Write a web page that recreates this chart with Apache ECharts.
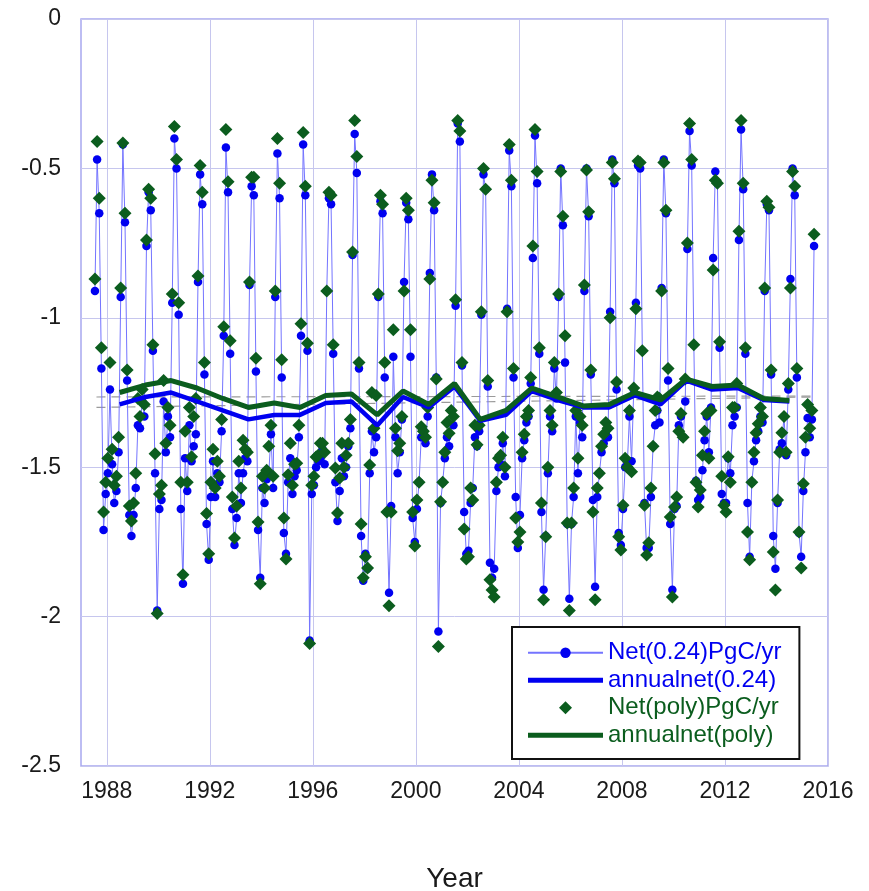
<!DOCTYPE html>
<html>
<head>
<meta charset="utf-8">
<script src="https://cdn.jsdelivr.net/npm/echarts@6/dist/echarts.min.js"></script>
<style>
  html, body { margin: 0; padding: 0; background: #ffffff; }
  #chart { width: 869px; height: 891px; }
</style>
</head>
<body>
<div id="chart"></div>
<script>
// Monthly net carbon flux (PgC/yr); the first value is July 1987, the last June 2015.
const firstYear = 1987;
const firstMonth = 7;

const net024 = [
  /* 1987 Jul-Dec */ -0.91, -0.47, -0.65, -1.17, -1.71, -1.59,
  /* 1988 */ -1.52, -1.24, -1.49, -1.62, -1.58, -1.45, -0.93, -0.42, -0.68, -1.21, -1.66, -1.73,
  /* 1989 */ -1.66, -1.57, -1.36, -1.37, -1.28, -1.33, -0.76, -0.58, -0.64, -1.11, -1.52, -1.98,
  /* 1990 */ -1.64, -1.61, -1.28, -1.45, -1.33, -1.40, -0.95, -0.40, -0.50, -0.99, -1.64, -1.89,
  /* 1991 */ -1.47, -1.58, -1.36, -1.48, -1.43, -1.39, -0.88, -0.52, -0.62, -1.19, -1.69, -1.81,
  /* 1992 */ -1.60, -1.48, -1.60, -1.52, -1.55, -1.38, -1.06, -0.43, -0.58, -1.12, -1.64, -1.76,
  /* 1993 */ -1.67, -1.52, -1.62, -1.52, -1.47, -1.48, -0.89, -0.56, -0.59, -1.18, -1.71, -1.87,
  /* 1994 */ -1.57, -1.62, -1.54, -1.52, -1.39, -1.57, -0.93, -0.45, -0.60, -1.20, -1.72, -1.79,
  /* 1995 */ -1.55, -1.47, -1.59, -1.53, -1.51, -1.40, -1.06, -0.42, -0.59, -1.11, -2.08, -1.59,
  /* 1996 */ -1.56, -1.50, -1.48, -1.47, -1.44, -1.49, -0.91, -0.60, -0.62, -1.12, -1.55, -1.68,
  /* 1997 */ -1.58, -1.47, -1.53, -1.50, -1.43, -1.37, -0.79, -0.385, -0.515, -1.17, -1.73, -1.88,
  /* 1998 */ -1.79, -1.84, -1.52, -1.38, -1.45, -1.40, -0.93, -0.61, -0.65, -1.20, -1.65, -1.92,
  /* 1999 */ -1.63, -1.13, -1.40, -1.52, -1.45, -1.34, -0.88, -0.615, -0.67, -1.13, -1.67, -1.75,
  /* 2000 */ -1.64, -1.55, -1.40, -1.38, -1.42, -1.33, -0.85, -0.52, -0.64, -1.20, -2.05, -1.62,
  /* 2001 */ -1.55, -1.47, -1.40, -1.43, -1.31, -1.36, -0.96, -0.35, -0.41, -1.16, -1.65, -1.79,
  /* 2002 */ -1.78, -1.62, -1.57, -1.40, -1.43, -1.38, -0.99, -0.52, -0.57, -1.23, -1.82, -1.87,
  /* 2003 */ -1.84, -1.58, -1.50, -1.49, -1.42, -1.53, -0.97, -0.44, -0.56, -1.20, -1.60, -1.77,
  /* 2004 */ -1.66, -1.47, -1.41, -1.35, -1.33, -1.22, -0.80, -0.39, -0.55, -1.12, -1.65, -1.91,
  /* 2005 */ -1.73, -1.52, -1.33, -1.38, -1.17, -1.27, -0.93, -0.50, -0.69, -1.15, -1.69, -1.94,
  /* 2006 */ -1.69, -1.60, -1.33, -1.52, -1.35, -1.40, -0.91, -0.50, -0.66, -1.19, -1.61, -1.90,
  /* 2007 */ -1.60, -1.52, -1.45, -1.42, -1.39, -1.40, -0.98, -0.47, -0.55, -1.24, -1.72, -1.76,
  /* 2008 */ -1.64, -1.50, -1.49, -1.33, -1.48, -1.24, -0.95, -0.49, -0.50, -1.11, -1.62, -1.77,
  /* 2009 */ -1.77, -1.60, -1.43, -1.36, -1.31, -1.35, -0.90, -0.47, -0.65, -1.21, -1.69, -1.91,
  /* 2010 */ -1.64, -1.63, -1.36, -1.33, -1.40, -1.28, -0.77, -0.375, -0.49, -1.09, -1.545, -1.61,
  /* 2011 */ -1.60, -1.51, -1.41, -1.33, -1.45, -1.30, -0.80, -0.51, -0.55, -1.10, -1.59, -1.62,
  /* 2012 */ -1.62, -1.47, -1.52, -1.36, -1.33, -1.30, -0.74, -0.37, -0.57, -1.12, -1.62, -1.80,
  /* 2013 */ -1.55, -1.48, -1.41, -1.38, -1.33, -1.35, -0.91, -0.62, -0.64, -1.19, -1.73, -1.84,
  /* 2014 */ -1.62, -1.44, -1.42, -1.33, -1.46, -1.24, -0.87, -0.50, -0.59, -1.20, -1.72, -1.80,
  /* 2015 Jan-Jun */ -1.58, -1.45, -1.335, -1.40, -1.34, -0.76
];

const netPoly = [
  /* 1987 Jul-Dec */ -0.87, -0.41, -0.60, -1.10, -1.65, -1.55,
  /* 1988 */ -1.47, -1.15, -1.44, -1.56, -1.53, -1.40, -0.90, -0.415, -0.65, -1.175, -1.63, -1.68,
  /* 1989 */ -1.62, -1.52, -1.27, -1.33, -1.24, -1.29, -0.74, -0.57, -0.60, -1.09, -1.455, -1.99,
  /* 1990 */ -1.59, -1.56, -1.21, -1.42, -1.30, -1.36, -0.92, -0.36, -0.47, -0.95, -1.55, -1.86,
  /* 1991 */ -1.38, -1.55, -1.30, -1.465, -1.33, -1.27, -0.86, -0.49, -0.58, -1.15, -1.655, -1.79,
  /* 1992 */ -1.55, -1.44, -1.57, -1.48, -1.53, -1.34, -1.03, -0.37, -0.545, -1.077, -1.60, -1.737,
  /* 1993 */ -1.63, -1.48, -1.57, -1.41, -1.44, -1.45, -0.88, -0.53, -0.53, -1.135, -1.683, -1.89,
  /* 1994 */ -1.53, -1.57, -1.51, -1.43, -1.36, -1.53, -0.91, -0.40, -0.55, -1.14, -1.67, -1.807,
  /* 1995 */ -1.525, -1.42, -1.56, -1.49, -1.487, -1.36, -1.02, -0.38, -0.56, -1.085, -2.09, -1.56,
  /* 1996 */ -1.53, -1.466, -1.46, -1.42, -1.42, -1.45, -0.91, -0.58, -0.59, -1.09, -1.503, -1.653,
  /* 1997 */ -1.536, -1.42, -1.50, -1.46, -1.42, -1.34, -0.78, -0.34, -0.46, -1.15, -1.69, -1.87,
  /* 1998 */ -1.80, -1.837, -1.493, -1.25, -1.37, -1.26, -0.92, -0.59, -0.62, -1.15, -1.65, -1.964,
  /* 1999 */ -1.65, -1.04, -1.37, -1.445, -1.42, -1.33, -0.91, -0.60, -0.64, -1.04, -1.65, -1.764,
  /* 2000 */ -1.61, -1.55, -1.365, -1.38, -1.40, -1.30, -0.87, -0.54, -0.615, -1.205, -2.10, -1.616,
  /* 2001 */ -1.55, -1.45, -1.35, -1.386, -1.31, -1.33, -0.94, -0.34, -0.375, -1.15, -1.707, -1.807,
  /* 2002 */ -1.80, -1.57, -1.61, -1.36, -1.425, -1.36, -0.98, -0.50, -0.57, -1.21, -1.877, -1.911,
  /* 2003 */ -1.934, -1.55, -1.47, -1.46, -1.40, -1.50, -0.98, -0.42, -0.54, -1.17, -1.67, -1.75,
  /* 2004 */ -1.717, -1.45, -1.39, -1.33, -1.31, -1.20, -0.76, -0.37, -0.51, -1.10, -1.62, -1.944,
  /* 2005 */ -1.733, -1.50, -1.31, -1.36, -1.15, -1.25, -0.92, -0.51, -0.66, -1.06, -1.687, -1.98,
  /* 2006 */ -1.687, -1.57, -1.31, -1.47, -1.33, -1.36, -0.89, -0.505, -0.645, -1.175, -1.65, -1.944,
  /* 2007 */ -1.57, -1.52, -1.43, -1.39, -1.35, -1.37, -1.00, -0.48, -0.535, -1.215, -1.733, -1.777,
  /* 2008 */ -1.627, -1.47, -1.50, -1.31, -1.515, -1.235, -0.97, -0.475, -0.48, -1.11, -1.627, -1.794,
  /* 2009 */ -1.753, -1.57, -1.43, -1.31, -1.265, -1.27, -0.91, -0.48, -0.64, -1.17, -1.667, -1.934,
  /* 2010 */ -1.633, -1.60, -1.38, -1.32, -1.40, -1.205, -0.75, -0.35, -0.47, -1.09, -1.55, -1.633,
  /* 2011 */ -1.576, -1.46, -1.38, -1.32, -1.47, -1.31, -0.84, -0.54, -0.55, -1.08, -1.53, -1.627,
  /* 2012 */ -1.65, -1.465, -1.55, -1.30, -1.30, -1.22, -0.71, -0.34, -0.55, -1.10, -1.717, -1.81,
  /* 2013 */ -1.55, -1.45, -1.385, -1.355, -1.30, -1.33, -0.90, -0.61, -0.63, -1.175, -1.784, -1.911,
  /* 2014 */ -1.61, -1.45, -1.385, -1.33, -1.45, -1.22, -0.90, -0.51, -0.56, -1.17, -1.717, -1.837,
  /* 2015 Jan-Jun */ -1.555, -1.40, -1.29, -1.37, -1.31, -0.72
];

// Annual means, plotted at mid-year
const annualYears = [1988, 1989, 1990, 1991, 1992, 1993, 1994, 1995, 1996, 1997, 1998, 1999, 2000, 2001,
                     2002, 2003, 2004, 2005, 2006, 2007, 2008, 2009, 2010, 2011, 2012, 2013, 2014];
const annualNet024 = [-1.29, -1.265, -1.25, -1.28, -1.31, -1.34, -1.325, -1.325, -1.285, -1.28, -1.36, -1.265, -1.30, -1.23,
                      -1.345, -1.325, -1.245, -1.275, -1.30, -1.30, -1.26, -1.29, -1.21, -1.24, -1.235, -1.275, -1.28];
const annualNetPoly = [-1.25, -1.225, -1.21, -1.235, -1.27, -1.30, -1.285, -1.30, -1.26, -1.255, -1.325, -1.245, -1.29, -1.22,
                       -1.34, -1.31, -1.235, -1.265, -1.295, -1.29, -1.25, -1.275, -1.205, -1.23, -1.225, -1.27, -1.277];

// Linear trend of each monthly series (dashed)
const trendYears = [1987.6, 2015.5];
const trend024 = [-1.30, -1.265];
const trendPoly = [-1.265, -1.262];

const seriesNames = ['Net(0.24)PgC/yr', 'annualnet(0.24)', 'Net(poly)PgC/yr', 'annualnet(poly)'];
const yearLabelStep = 4;

const monthX = i => firstYear + (firstMonth - 1 + i + 0.5) / 12;
const pairs = (xs, ys) => ys.map((v, i) => [xs[i], v]);

const monthlyX = net024.map((_, i) => monthX(i));
const annualX = annualYears.map(y => y + 0.5);

const FONT = '"Liberation Sans", Arial, Helvetica, sans-serif';
const BLUE = '#0000f0';
const GREEN = '#0b5d1e';
const CLEAR = 'rgba(0,0,0,0)';
const GRID = '#c6c6ee';
// Legend keys: a flat bar for the thick annual lines, a square diamond for the markers
const BAR_ICON = 'path://M0,0 L75,0 L75,5 L0,5 Z';
const DIAMOND_ICON = 'path://M6,0 L12,6 L6,12 L0,6 Z';

const chart = echarts.init(document.getElementById('chart'), null, { renderer: 'canvas' });

chart.setOption({
  animation: false,
  backgroundColor: '#ffffff',
  textStyle: { fontFamily: FONT },
  grid: {
    left: 81, right: 41, top: 19, bottom: 125,
    outerBoundsMode: 'none',
    show: true, borderColor: '#a8a8f0', borderWidth: 1.5, backgroundColor: '#ffffff'
  },
  xAxis: {
    type: 'value', min: 1987, max: 2016, interval: 1,
    name: 'Year', nameLocation: 'middle', nameGap: 99,
    nameTextStyle: { fontSize: 28, color: '#1a1a1a', fontFamily: FONT },
    axisLine: { show: false }, axisTick: { show: false },
    axisLabel: {
      fontSize: 23, color: '#1a1a1a', margin: 14, fontFamily: FONT,
      formatter: v => ((v - 1988) % yearLabelStep === 0 ? String(v) : '')
    },
    splitLine: { show: true, lineStyle: { color: [CLEAR, GRID, CLEAR, CLEAR], width: 1 } }
  },
  yAxis: {
    type: 'value', min: -2.5, max: 0, interval: 0.5,
    axisLine: { show: false }, axisTick: { show: false },
    axisLabel: { fontSize: 23, color: '#1a1a1a', margin: 20, fontFamily: FONT },
    splitLine: { show: true, lineStyle: { color: GRID, width: 1 } }
  },
  legend: {
    orient: 'vertical', left: 512, top: 627,
    padding: [12, 18, 10, 15], itemWidth: 75, itemHeight: 13, itemGap: 0,
    symbolKeepAspect: true,
    backgroundColor: '#ffffff', borderColor: '#111111', borderWidth: 2,
    selectedMode: false,
    textStyle: { fontSize: 24, lineHeight: 27.5, fontFamily: FONT },
    data: [
      { name: seriesNames[0], textStyle: { color: BLUE } },
      { name: seriesNames[1], icon: BAR_ICON, itemStyle: { color: BLUE }, textStyle: { color: BLUE } },
      { name: seriesNames[2], icon: DIAMOND_ICON, itemStyle: { color: GREEN }, textStyle: { color: GREEN } },
      { name: seriesNames[3], icon: BAR_ICON, itemStyle: { color: GREEN }, textStyle: { color: GREEN } }
    ]
  },
  series: [
    {
      name: 'trend024', type: 'line', silent: true, symbol: 'none', z: 1,
      data: pairs(trendYears, trend024),
      lineStyle: { color: '#9a9a9a', width: 1.2, type: [9, 6] }
    },
    {
      name: 'trendPoly', type: 'line', silent: true, symbol: 'none', z: 1,
      data: pairs(trendYears, trendPoly),
      lineStyle: { color: '#9a9a9a', width: 1.2, type: [9, 6] }
    },
    {
      name: seriesNames[0], type: 'line', z: 2,
      data: pairs(monthlyX, net024),
      symbol: 'circle', symbolSize: 8.5, showSymbol: true,
      itemStyle: { color: BLUE },
      lineStyle: { color: '#7474ff', width: 1 }
    },
    {
      name: seriesNames[2], type: 'scatter', z: 3,
      data: pairs(monthlyX, netPoly),
      symbol: 'diamond', symbolSize: 13,
      itemStyle: { color: GREEN, opacity: 1 }
    },
    {
      name: seriesNames[1], type: 'line', z: 4,
      data: pairs(annualX, annualNet024),
      symbol: 'none',
      itemStyle: { color: BLUE },
      lineStyle: { color: BLUE, width: 4.5 }
    },
    {
      name: seriesNames[3], type: 'line', z: 5,
      data: pairs(annualX, annualNetPoly),
      symbol: 'none',
      itemStyle: { color: GREEN },
      lineStyle: { color: GREEN, width: 5 }
    }
  ]
});
</script>
</body>
</html>
